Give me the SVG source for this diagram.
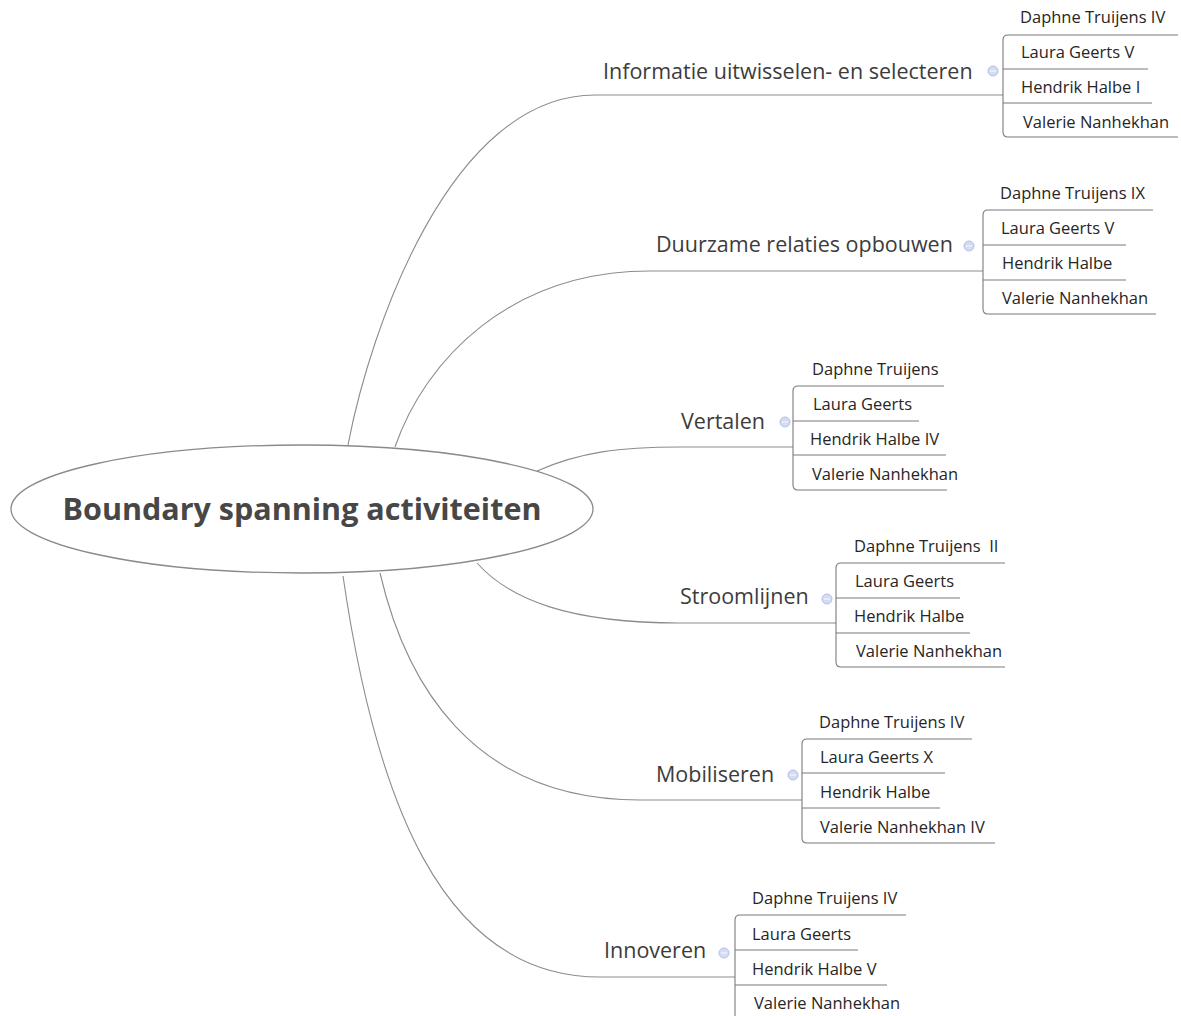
<svg xmlns="http://www.w3.org/2000/svg" width="1181" height="1016" viewBox="0 0 1181 1016">
  <style>
    .bg { fill: #ffffff; }
    .root-shape { fill: #ffffff; stroke: #8a8a8a; stroke-width: 1.3; }
    .root-label { font-family: "Open Sans", "Noto Sans", "Liberation Sans", sans-serif; font-weight: 700; font-size: 30.5px; fill: #474747; }
    .topic { font-family: "Open Sans", "Noto Sans", "Liberation Sans", sans-serif; font-size: 21.5px; fill: #3c3c3c; }
    .sub { font-family: "Open Sans", "Noto Sans", "Liberation Sans", sans-serif; font-size: 16.5px; fill: #262626; }
    .link { fill: none; stroke: #8c8c8c; stroke-width: 1.1; }
    .rule { fill: none; stroke: #7a7a7a; stroke-width: 1.1; }
    .fold circle { fill: #d4dcf3; stroke: #b2c1ea; stroke-width: 1; }
    .fold line { stroke: #f4f6fc; stroke-width: 1.2; }
  </style>

  <rect class="bg" x="0" y="0" width="1181" height="1016"/>

  <!-- curved links from the central topic to each main topic -->
  <g id="connectors">
    <path class="link" d="M348,445 C370,330 450,95 595,95 H1003"/>
    <path class="link" d="M395,447 C425,360 510,271 650,271 H983"/>
    <path class="link" d="M537,471 C580,452 620,447 680,447 H793"/>
    <path class="link" d="M477,563 C510,600 570,623 680,623 H836"/>
    <path class="link" d="M380,573 C405,680 470,800 640,800 H802"/>
    <path class="link" d="M343,576 C375,795 440,977 600,977 H735"/>
  </g>

  <!-- central topic -->
  <g id="root">
    <ellipse class="root-shape" cx="302" cy="509" rx="291" ry="64"/>
    <text class="root-label" x="302" y="520" text-anchor="middle">Boundary spanning activiteiten</text>
  </g>

  <!-- main topic 1 -->
  <g id="topic-informatie">
    <text class="topic" x="603" y="79">Informatie uitwisselen- en selecteren</text>
    <g class="fold"><circle cx="993" cy="71" r="5"/><line x1="990" y1="71" x2="996" y2="71"/></g>
    <path class="rule" d="M1178,35 H1008 Q1003,35 1003,40 V132 Q1003,137 1008,137 H1178"/>
    <path class="rule" d="M1003,69 H1148 M1003,103 H1152"/>
    <text class="sub" x="1020" y="23">Daphne Truijens IV</text>
    <text class="sub" x="1021" y="58">Laura Geerts V</text>
    <text class="sub" x="1021" y="93">Hendrik Halbe I</text>
    <text class="sub" x="1023" y="128">Valerie Nanhekhan</text>
  </g>

  <!-- main topic 2 -->
  <g id="topic-duurzame">
    <text class="topic" x="656" y="252">Duurzame relaties opbouwen</text>
    <g class="fold"><circle cx="969" cy="246" r="5"/><line x1="966" y1="246" x2="972" y2="246"/></g>
    <path class="rule" d="M1153,210 H988 Q983,210 983,215 V309 Q983,314 988,314 H1156"/>
    <path class="rule" d="M983,245 H1126 M983,280 H1126"/>
    <text class="sub" x="1000" y="199">Daphne Truijens IX</text>
    <text class="sub" x="1001" y="234">Laura Geerts V</text>
    <text class="sub" x="1002" y="269">Hendrik Halbe</text>
    <text class="sub" x="1002" y="304">Valerie Nanhekhan</text>
  </g>

  <!-- main topic 3 -->
  <g id="topic-vertalen">
    <text class="topic" x="681" y="429">Vertalen</text>
    <g class="fold"><circle cx="785" cy="422" r="5"/><line x1="782" y1="422" x2="788" y2="422"/></g>
    <path class="rule" d="M944,386 H798 Q793,386 793,391 V485 Q793,490 798,490 H947"/>
    <path class="rule" d="M793,421 H919 M793,455 H946"/>
    <text class="sub" x="812" y="375">Daphne Truijens</text>
    <text class="sub" x="813" y="410">Laura Geerts</text>
    <text class="sub" x="810" y="445">Hendrik Halbe IV</text>
    <text class="sub" x="812" y="480">Valerie Nanhekhan</text>
  </g>

  <!-- main topic 4 -->
  <g id="topic-stroomlijnen">
    <text class="topic" x="680" y="604">Stroomlijnen</text>
    <g class="fold"><circle cx="827" cy="599" r="5"/><line x1="824" y1="599" x2="830" y2="599"/></g>
    <path class="rule" d="M1005,563 H841 Q836,563 836,568 V662 Q836,667 841,667 H1005"/>
    <path class="rule" d="M836,598 H960 M836,633 H970"/>
    <text class="sub" x="854" y="552" xml:space="preserve">Daphne Truijens  II</text>
    <text class="sub" x="855" y="587">Laura Geerts</text>
    <text class="sub" x="854" y="622">Hendrik Halbe</text>
    <text class="sub" x="856" y="657">Valerie Nanhekhan</text>
  </g>

  <!-- main topic 5 -->
  <g id="topic-mobiliseren">
    <text class="topic" x="656" y="782">Mobiliseren</text>
    <g class="fold"><circle cx="793" cy="775" r="5"/><line x1="790" y1="775" x2="796" y2="775"/></g>
    <path class="rule" d="M972,739 H807 Q802,739 802,744 V838 Q802,843 807,843 H995"/>
    <path class="rule" d="M802,773 H945 M802,808 H940"/>
    <text class="sub" x="819" y="728">Daphne Truijens IV</text>
    <text class="sub" x="820" y="763">Laura Geerts X</text>
    <text class="sub" x="820" y="798">Hendrik Halbe</text>
    <text class="sub" x="820" y="833">Valerie Nanhekhan IV</text>
  </g>

  <!-- main topic 6 -->
  <g id="topic-innoveren">
    <text class="topic" x="604" y="958">Innoveren</text>
    <g class="fold"><circle cx="724" cy="953" r="5"/><line x1="721" y1="953" x2="727" y2="953"/></g>
    <path class="rule" d="M906,915 H740 Q735,915 735,920 V1016"/>
    <path class="rule" d="M735,950 H858 M735,985 H887"/>
    <text class="sub" x="752" y="904">Daphne Truijens IV</text>
    <text class="sub" x="752" y="940">Laura Geerts</text>
    <text class="sub" x="752" y="975">Hendrik Halbe V</text>
    <text class="sub" x="754" y="1009">Valerie Nanhekhan</text>
  </g>
</svg>
